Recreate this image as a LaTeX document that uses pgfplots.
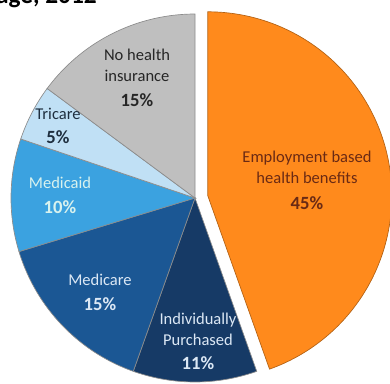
\documentclass[border=0pt]{standalone}
\usepackage{pgfplots}
\pgfplotsset{compat=1.18}
\usepackage{fontspec}
\setmainfont{Carlito}
\definecolor{cOrange}{HTML}{FF8A1C}
\definecolor{cGray}{HTML}{BFBFBF}
\definecolor{cTri}{HTML}{C0E0F5}
\definecolor{cMcaid}{HTML}{3BA2E0}
\definecolor{cMcare}{HTML}{1B5794}
\definecolor{cInd}{HTML}{163A66}
\definecolor{tOrange}{HTML}{6A2A14}
\definecolor{tDark}{HTML}{262626}
\definecolor{tTri}{HTML}{1F2F3F}
\definecolor{tMcaid}{HTML}{D8F2EE}
\definecolor{tLight}{HTML}{DCE8F5}
\begin{document}
\begin{tikzpicture}
% shares (percent)
\def\vEmp{45}\def\vInd{11}\def\vMcare{15}\def\vMcaid{10}\def\vTri{5}\def\vNo{15}
\pgfmathsetmacro\tot{\vEmp+\vInd+\vMcare+\vMcaid+\vTri+\vNo}
\pgfmathsetmacro\aA{90}
\pgfmathsetmacro\aB{\aA-360*\vEmp/\tot}
\pgfmathsetmacro\aC{\aB-360*\vInd/\tot}
\pgfmathsetmacro\aD{\aC-360*\vMcare/\tot}
\pgfmathsetmacro\aE{\aD-360*\vMcaid/\tot}
\pgfmathsetmacro\aF{\aE-360*\vTri/\tot}
\pgfmathsetmacro\aG{\aF-360*\vNo/\tot}
\pgfmathsetmacro\aMid{(\aA+\aB)/2}
\def\cx{195}\def\cy{185}\def\R{184}\def\ex{13}
\pgfmathsetmacro\ox{\cx+\ex*cos(\aMid)}
\pgfmathsetmacro\oy{\cy+\ex*sin(\aMid)}
\useasboundingbox (0,0) rectangle (292.5pt,287.25pt);
\clip (0,0) rectangle (292.5pt,287.25pt);
\begin{axis}[at={(0,0)}, anchor=origin, x=0.75pt, y=0.75pt, scale only axis,
  xmin=0, xmax=390, ymin=0, ymax=383, hide axis, clip=true]
\addplot[fill=cOrange, draw=cOrange!70!black, line width=0.5pt, domain=\aB:\aA, samples=120, variable=\t]
  ({\ox+\R*cos(t)},{\oy+\R*sin(t)}) -- (axis cs:\ox,\oy) -- cycle;
\addplot[fill=cInd, draw=black!45, line width=0.5pt, domain=\aC:\aB, samples=40, variable=\t]
  ({\cx+\R*cos(t)},{\cy+\R*sin(t)}) -- (axis cs:\cx,\cy) -- cycle;
\addplot[fill=cMcare, draw=black!45, line width=0.5pt, domain=\aD:\aC, samples=50, variable=\t]
  ({\cx+\R*cos(t)},{\cy+\R*sin(t)}) -- (axis cs:\cx,\cy) -- cycle;
\addplot[fill=cMcaid, draw=black!45, line width=0.5pt, domain=\aE:\aD, samples=40, variable=\t]
  ({\cx+\R*cos(t)},{\cy+\R*sin(t)}) -- (axis cs:\cx,\cy) -- cycle;
\addplot[fill=cTri, draw=black!45, line width=0.5pt, domain=\aF:\aE, samples=20, variable=\t]
  ({\cx+\R*cos(t)},{\cy+\R*sin(t)}) -- (axis cs:\cx,\cy) -- cycle;
\addplot[fill=cGray, draw=black!45, line width=0.5pt, domain=\aG:\aF, samples=50, variable=\t]
  ({\cx+\R*cos(t)},{\cy+\R*sin(t)}) -- (axis cs:\cx,\cy) -- cycle;
\end{axis}
\begin{axis}[at={(0,0)}, anchor=origin, x=0.75pt, y=0.75pt, scale only axis,
  xmin=0, xmax=390, ymin=0, ymax=383, hide axis, clip=false]
\tikzset{lab/.style={font=\fontsize{12.4}{14}\selectfont, anchor=center, inner sep=0pt},
         pct/.style={font=\fontsize{14}{16}\selectfont\bfseries, anchor=center, inner sep=0pt}}
\node[lab, text=tDark] at (axis cs:137,328) {No health};
\node[lab, text=tDark] at (axis cs:137,307) {insurance};
\node[pct, text=tDark] at (axis cs:137,283) {15\%};
\node[lab, text=tTri] at (axis cs:58,269) {Tricare};
\node[pct, text=tTri] at (axis cs:58,246) {5\%};
\node[lab, text=tMcaid] at (axis cs:60,200) {Medicaid};
\node[pct, text=tMcaid] at (axis cs:60,176) {10\%};
\node[lab, text=tLight] at (axis cs:100,103) {Medicare};
\node[pct, text=tLight] at (axis cs:100,79) {15\%};
\node[lab, text=tLight] at (axis cs:198,63) {Individually};
\node[lab, text=tLight] at (axis cs:198,43) {Purchased};
\node[pct, text=tLight] at (axis cs:198,20) {11\%};
\node[lab, text=tOrange] at (axis cs:307,225) {Employment based};
\node[lab, text=tOrange] at (axis cs:307,205) {health benefits};
\node[pct, text=tOrange] at (axis cs:307,180) {45\%};
\node[font=\fontsize{19}{22}\selectfont\bfseries, anchor=base east, inner sep=0pt] at (axis cs:97,379) {Health Insurance Coverage, 2012};
\end{axis}
\end{tikzpicture}
\end{document}
